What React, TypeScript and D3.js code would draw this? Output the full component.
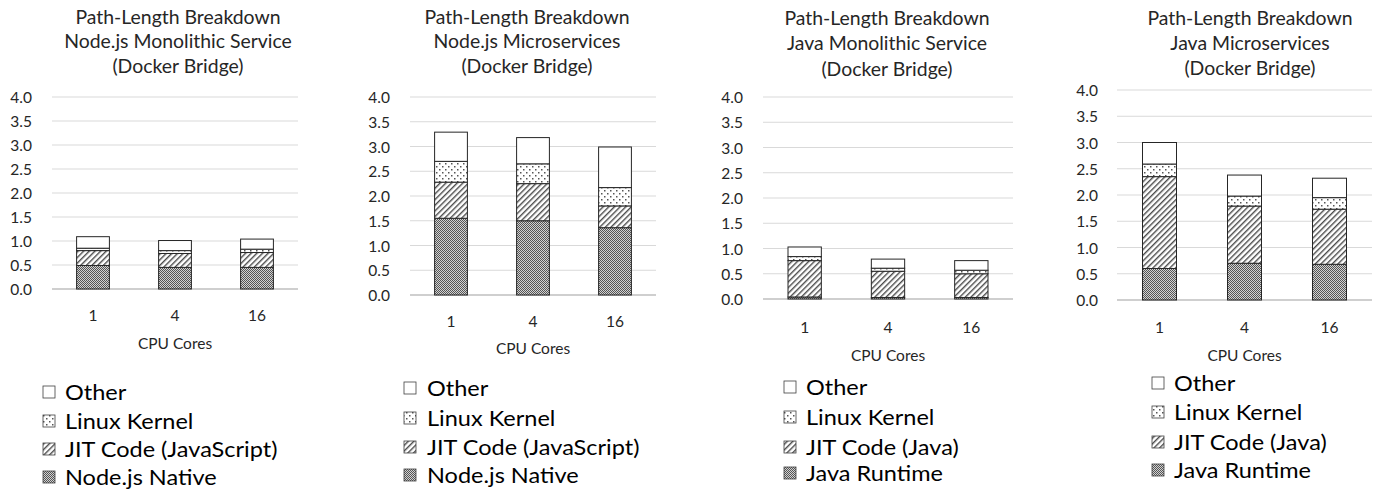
import React from "react";
import * as d3 from "d3";

// ---------- data ----------
const cores = ["1", "4", "16"];
const yTicks = [0, 0.5, 1, 1.5, 2, 2.5, 3, 3.5, 4];

const titleLine1 = "Path-Length Breakdown";
const titleLine3 = "(Docker Bridge)";
const panelNames = [
  "Node.js Monolithic Service",
  "Node.js Microservices",
  "Java Monolithic Service",
  "Java Microservices",
];
const xAxisTitle = "CPU Cores";

const seriesKeys = ["native", "jit", "kernel", "other"];
const nodeLegend = ["Other", "Linux Kernel", "JIT Code (JavaScript)", "Node.js Native"];
const javaLegend = ["Other", "Linux Kernel", "JIT Code (Java)", "Java Runtime"];

// Node.js Monolithic Service
const nodeMonoNative = [0.49, 0.45, 0.45];
const nodeMonoJit = [0.31, 0.29, 0.31];
const nodeMonoKernel = [0.05, 0.06, 0.07];
const nodeMonoOther = [0.24, 0.21, 0.21];

// Node.js Microservices
const nodeMicroNative = [1.55, 1.5, 1.36];
const nodeMicroJit = [0.73, 0.75, 0.44];
const nodeMicroKernel = [0.42, 0.4, 0.37];
const nodeMicroOther = [0.59, 0.53, 0.82];

// Java Monolithic Service
const javaMonoRuntime = [0.04, 0.03, 0.03];
const javaMonoJit = [0.72, 0.52, 0.47];
const javaMonoKernel = [0.08, 0.06, 0.07];
const javaMonoOther = [0.19, 0.18, 0.19];

// Java Microservices
const javaMicroRuntime = [0.6, 0.7, 0.68];
const javaMicroJit = [1.75, 1.09, 1.05];
const javaMicroKernel = [0.24, 0.19, 0.22];
const javaMicroOther = [0.41, 0.4, 0.37];

// ---------- layout ----------
const layout = [
  { x0: 52, x1: 298, yTop: 97, yBot: 289, tickRight: 32, titleX: 178, titleY: [17, 41, 66], xLabY: 315, axTitleY: 343, legX: 43, legTextX: 65, legY: [392, 421, 449, 477] },
  { x0: 410, x1: 656, yTop: 97, yBot: 295, tickRight: 390, titleX: 527, titleY: [17, 41, 66], xLabY: 321, axTitleY: 348, legX: 404, legTextX: 427, legY: [388, 418, 447, 475] },
  { x0: 763, x1: 1013, yTop: 97, yBot: 299, tickRight: 743, titleX: 887, titleY: [18, 43, 69], xLabY: 327, axTitleY: 355, legX: 784, legTextX: 806, legY: [387, 417, 447, 473] },
  { x0: 1117, x1: 1372, yTop: 90, yBot: 300, tickRight: 1098, titleX: 1250, titleY: [18, 43, 68], xLabY: 327, axTitleY: 355, legX: 1152, legTextX: 1174, legY: [383, 412, 442, 470] },
];

const FONT = "Lato, Carlito, Calibri, sans-serif";
const fills: Record<string, string> = {
  native: "url(#patNative)",
  jit: "url(#patJit)",
  kernel: "url(#patKernel)",
  other: "#ffffff",
};

function buildRows(native: number[], jit: number[], kernel: number[], other: number[]) {
  return cores.map((c, i) => ({ core: c, native: native[i], jit: jit[i], kernel: kernel[i], other: other[i] }));
}

const panels = [
  { name: panelNames[0], legend: nodeLegend, rows: buildRows(nodeMonoNative, nodeMonoJit, nodeMonoKernel, nodeMonoOther) },
  { name: panelNames[1], legend: nodeLegend, rows: buildRows(nodeMicroNative, nodeMicroJit, nodeMicroKernel, nodeMicroOther) },
  { name: panelNames[2], legend: javaLegend, rows: buildRows(javaMonoRuntime, javaMonoJit, javaMonoKernel, javaMonoOther) },
  { name: panelNames[3], legend: javaLegend, rows: buildRows(javaMicroRuntime, javaMicroJit, javaMicroKernel, javaMicroOther) },
];

const legendKeys = ["other", "kernel", "jit", "native"];

function Panel({ p, L }: { p: any; L: any }) {
  const x = d3.scaleBand<string>().domain(cores).range([L.x0, L.x1]).paddingInner(0.6).paddingOuter(0.3);
  const y = d3.scaleLinear().domain([0, 4]).range([L.yBot, L.yTop]);
  const stacked = d3.stack<any>().keys(seriesKeys)(p.rows);
  const fmt = d3.format(".1f");
  return (
    <g>
      {[titleLine1, p.name, titleLine3].map((t, i) => (
        <text key={i} transform={`translate(${L.titleX},${L.titleY[i]}) scale(1.05,1)`} textAnchor="middle" dominantBaseline="central" fontSize={18.5} fill="#262626">
          {t}
        </text>
      ))}
      {yTicks.map((t) => (
        <g key={t}>
          <line x1={L.x0} x2={L.x1} y1={y(t)} y2={y(t)} stroke={t === 0 ? "#bfbfbf" : "#d9d9d9"} strokeWidth={t === 0 ? 1.3 : 1} />
          <text x={L.tickRight} y={y(t)} textAnchor="end" dominantBaseline="central" fontSize={15.5} fill="#262626">
            {fmt(t)}
          </text>
        </g>
      ))}
      {stacked.map((s) => (
        <g key={s.key}>
          {s.map((d, i) => (
            <rect
              key={i}
              x={x(cores[i])}
              width={x.bandwidth()}
              y={y(d[1])}
              height={y(d[0]) - y(d[1])}
              fill={fills[s.key]}
              stroke="#262626"
              strokeWidth={1}
            />
          ))}
        </g>
      ))}
      {cores.map((c) => (
        <text key={c} x={(x(c) as number) + x.bandwidth() / 2} y={L.xLabY} textAnchor="middle" dominantBaseline="central" fontSize={15.5} fill="#262626">
          {c}
        </text>
      ))}
      <text x={(L.x0 + L.x1) / 2} y={L.axTitleY} textAnchor="middle" dominantBaseline="central" fontSize={15.5} fill="#262626">
        {xAxisTitle}
      </text>
      {legendKeys.map((k, i) => (
        <g key={k}>
          <rect x={L.legX} y={L.legY[i] - 6} width={12} height={12} fill={fills[k]} stroke="#404040" strokeWidth={0.8} />
          <text transform={`translate(${L.legTextX},${L.legY[i]}) scale(1.12,1)`} dominantBaseline="central" fontSize={21} fill="#000">
            {p.legend[i]}
          </text>
        </g>
      ))}
    </g>
  );
}

export default function App() {
  return (
    <svg width={1380} height={494} style={{ position: "absolute", left: 0, top: 0, background: "#fff" }} fontFamily={FONT}>
      <defs>
        <pattern id="patNative" width={2} height={2} patternUnits="userSpaceOnUse">
          <rect width={2} height={2} fill="#d2d2d2" />
          <rect x={0} y={0} width={1} height={1} fill="#555555" />
          <rect x={1} y={1} width={1} height={1} fill="#555555" />
        </pattern>
        <pattern id="patJit" width={4} height={4} patternUnits="userSpaceOnUse" patternTransform="rotate(45)">
          <rect width={4} height={4} fill="#ffffff" />
          <rect x={0} y={0} width={1.4} height={4} fill="#4a4a4a" />
        </pattern>
        <pattern id="patKernel" width={6} height={6} patternUnits="userSpaceOnUse">
          <rect width={6} height={6} fill="#ffffff" />
          <rect x={1} y={1} width={1.5} height={1.5} fill="#555" />
          <rect x={4} y={4} width={1.5} height={1.5} fill="#555" />
        </pattern>
      </defs>
      <rect width={1380} height={494} fill="#fff" />
      {panels.map((p, i) => (
        <Panel key={i} p={p} L={layout[i]} />
      ))}
    </svg>
  );
}
